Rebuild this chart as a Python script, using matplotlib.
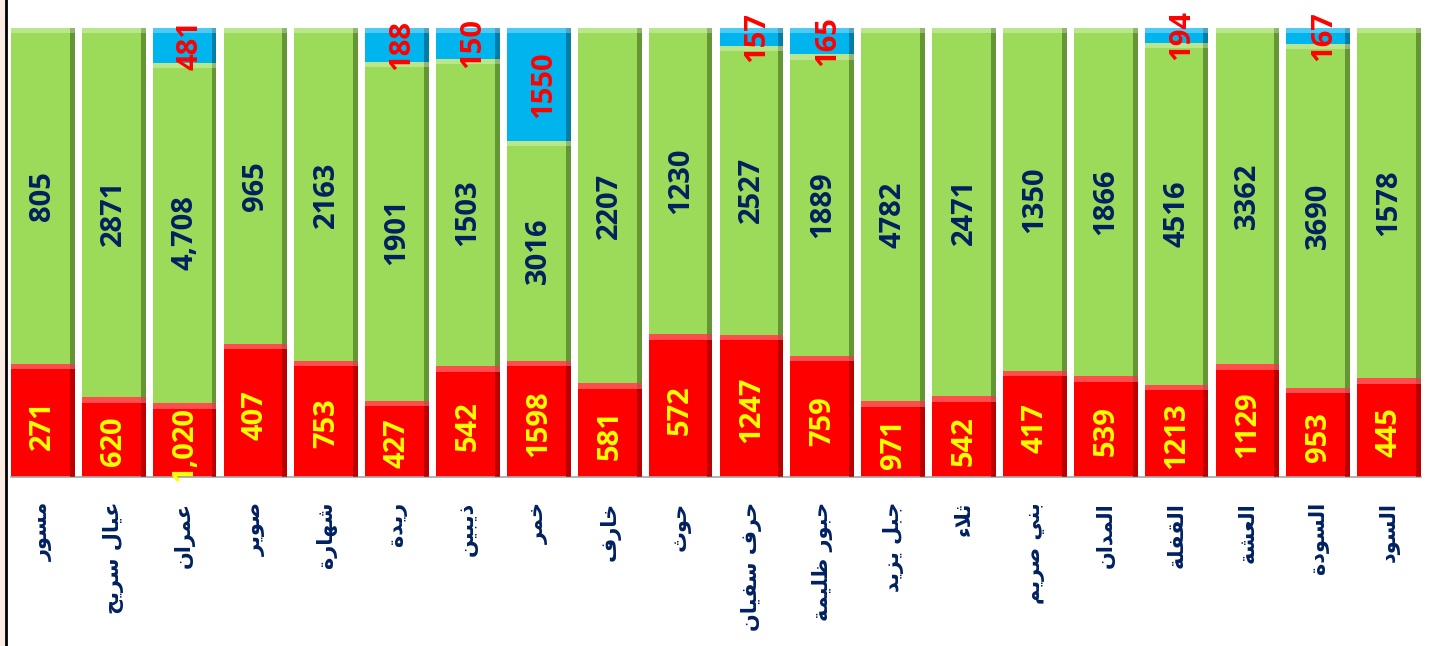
import matplotlib
matplotlib.use("Agg")
import matplotlib.pyplot as plt
import numpy as np
from matplotlib.patches import Rectangle

# districts, left to right
districts = ["مسور", "عيال سريح", "عمران", "صوير", "شهارة", "ريدة", "ذيبين", "خمر",
             "خارف", "حوث", "حرف سفيان", "حبور ظليمة", "جبل يزيد", "ثلاء", "بني صريم",
             "المدان", "القفلة", "العشة", "السودة", "السود"]

# bottom (red), middle (green), top (blue)
red_vals = [271, 620, 1020, 407, 753, 427, 542, 1598, 581, 572,
            1247, 759, 971, 542, 417, 539, 1213, 1129, 953, 445]
green_vals = [805, 2871, 4708, 965, 2163, 1901, 1503, 3016, 2207, 1230,
              2527, 1889, 4782, 2471, 1350, 1866, 4516, 3362, 3690, 1578]
blue_vals = [0, 0, 481, 0, 0, 188, 150, 1550, 0, 0,
             157, 165, 0, 0, 0, 0, 194, 0, 167, 0]
# bars whose labels show a thousands separator
comma_bars = [2]

# --- tiny arabic shaper (matplotlib has no shaping) ---
dual = {"ب": 0xFE8F, "ت": 0xFE95, "ث": 0xFE99, "ج": 0xFE9D, "ح": 0xFEA1, "خ": 0xFEA5,
        "س": 0xFEB1, "ش": 0xFEB5, "ص": 0xFEB9, "ض": 0xFEBD, "ط": 0xFEC1, "ظ": 0xFEC5,
        "ع": 0xFEC9, "غ": 0xFECD, "ف": 0xFED1, "ق": 0xFED5, "ك": 0xFED9, "ل": 0xFEDD,
        "م": 0xFEE1, "ن": 0xFEE5, "ه": 0xFEE9, "ي": 0xFEF1}
right_only = {"ا": 0xFE8D, "ة": 0xFE93, "د": 0xFEA9, "ذ": 0xFEAB, "ر": 0xFEAD,
              "ز": 0xFEAF, "و": 0xFEED, "ى": 0xFEEF}
no_join = {"ء": 0xFE80}


def shape(text):
    out = []
    for word in text.split(" "):
        chars = list(word)
        res = []
        i = 0
        while i < len(chars):
            c = chars[i]
            prev_joins = i > 0 and chars[i - 1] in dual
            # lam + alef ligature
            if c == "ل" and i + 1 < len(chars) and chars[i + 1] == "ا":
                res.append(chr(0xFEFC if prev_joins else 0xFEFB))
                i += 2
                continue
            nxt = chars[i + 1] if i + 1 < len(chars) else None
            next_joins = nxt is not None and (nxt in dual or nxt in right_only)
            if c in dual:
                b = dual[c]
                if prev_joins and next_joins:
                    res.append(chr(b + 3))
                elif prev_joins:
                    res.append(chr(b + 1))
                elif next_joins:
                    res.append(chr(b + 2))
                else:
                    res.append(chr(b))
            elif c in right_only:
                res.append(chr(right_only[c] + (1 if prev_joins else 0)))
            elif c in no_join:
                res.append(chr(no_join[c]))
            else:
                res.append(c)
            i += 1
        out.append("".join(res))
    return " ".join(out)[::-1]


red = np.array(red_vals, dtype=float)
green = np.array(green_vals, dtype=float)
blue = np.array(blue_vals, dtype=float)
total = red + green + blue
r_frac = red / total
g_frac = green / total
b_frac = blue / total
x = np.arange(len(districts))

fig = plt.figure(figsize=(14.3, 6.46), dpi=100)
fig.patch.set_facecolor("white")
ax = fig.add_axes([11 / 1430, 1 - 477 / 646, 1410 / 1430, 449 / 646])

c_red, c_green, c_blue = "#FF0000", "#9CDA59", "#00B4EE"
w = 0.9
segs = [(r_frac, np.zeros_like(r_frac), c_red, "#900000"),
        (g_frac, r_frac, c_green, "#3F6A1C"),
        (b_frac, r_frac + g_frac, c_blue, "#005A78")]
for h, bot, col, dark in segs:
    ax.bar(x, h, w, bottom=bot, color=col, edgecolor="none", zorder=2)
    # bevel: darker right edge, light top strip
    ax.bar(x + w / 2 - 0.035, h, 0.07, bottom=bot, color=dark, alpha=0.6,
           edgecolor="none", zorder=3)
    hh = np.where(h > 0, np.minimum(h, 0.012), 0)
    ax.bar(x, hh, w, bottom=bot + h - hh, color="white", alpha=0.3,
           edgecolor="none", zorder=3)

fnt = dict(family="Open Sans", fontweight="bold", fontsize=21, rotation=90,
           ha="center", va="center", zorder=5, clip_on=False)
for i in x:
    fmt = "{:,.0f}" if i in comma_bars else "{:.0f}"
    ax.text(i, r_frac[i] / 2 - 0.01, fmt.format(red[i]), color="#FFFF00", **fnt)
    ax.text(i, r_frac[i] + g_frac[i] / 2, fmt.format(green[i]), color="#002060", **fnt)
    if blue[i] > 0:
        ax.text(i + 0.07, r_frac[i] + g_frac[i] + b_frac[i] / 2, fmt.format(blue[i]),
                color="#FF0000", **fnt)

ax.set_xlim(-0.45, len(districts) - 0.55)
ax.set_ylim(0, 1)
ax.set_yticks([])
ax.set_xticks(x)
ax.set_xticklabels([shape(d) for d in districts], rotation=90, family="DejaVu Sans",
                   fontweight="bold", fontsize=15, color="#002060", va="top")
ax.tick_params(axis="x", length=0, pad=18)
for s in ["top", "left", "right"]:
    ax.spines[s].set_visible(False)
ax.spines["bottom"].set_color("#A6A6A6")
ax.spines["bottom"].set_linewidth(1.2)
ax.set_facecolor("white")

# left frame strip
fig.add_artist(Rectangle((0, 0), 5 / 1430, 1, transform=fig.transFigure,
                         color="#FCEDE4", zorder=0))
fig.add_artist(plt.Line2D([6 / 1430, 6 / 1430], [0, 1], transform=fig.transFigure,
                          color="black", lw=2))

fig.savefig("out.png", dpi=100)
